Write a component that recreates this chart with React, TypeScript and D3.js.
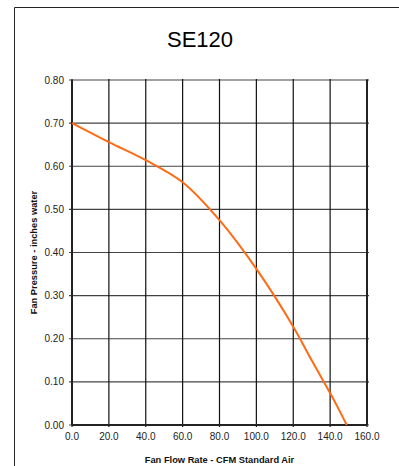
import React from "react";
import { scaleLinear, line, curveCatmullRom, range } from "d3";

// Caudal (CFM) y presión (pulgadas de agua)
const flowValues = [0, 20, 40, 60, 80, 100, 120, 130, 140, 144, 149];
const pressureValues = [0.7, 0.656, 0.614, 0.563, 0.475, 0.362, 0.228, 0.15, 0.074, 0.042, 0.0];

const xTicks = [0, 20, 40, 60, 80, 100, 120, 140, 160];
const yTicks = [0, 0.1, 0.2, 0.3, 0.4, 0.5, 0.6, 0.7, 0.8];

const title = "SE120";
const xTitle = "Fan Flow Rate - CFM Standard Air";
const yTitle = "Fan Pressure - inches water";

export default function App() {
  const width = 399;
  const height = 466;
  const plot = { left: 72, right: 367, top: 80, bottom: 425 };
  const font = "'Liberation Sans', Arial, sans-serif";

  const x = scaleLinear().domain([0, 160]).range([plot.left, plot.right]);
  const y = scaleLinear().domain([0, 0.8]).range([plot.bottom, plot.top]);

  const data = range(flowValues.length).map((i) => ({ q: flowValues[i], p: pressureValues[i] }));
  const curve = line<{ q: number; p: number }>()
    .x((d) => x(d.q))
    .y((d) => y(d.p))
    .curve(curveCatmullRom.alpha(0.5));

  return (
    <svg
      width={width}
      height={height}
      style={{ position: "absolute", left: 0, top: 0, background: "#fff" }}
      fontFamily={font}
    >
      {/* Marco exterior */}
      <line x1={14.5} y1={7.5} x2={width} y2={7.5} stroke="#222" strokeWidth={1} />
      <line x1={14.5} y1={7.5} x2={14.5} y2={height} stroke="#222" strokeWidth={1} />

      {/* Título */}
      <text x={200} y={47} textAnchor="middle" fontSize={22}>
        {title}
      </text>

      {/* Rejilla horizontal */}
      {yTicks.map((t, i) => (
        <line
          key={`h-${i}`}
          x1={plot.left - 3}
          x2={plot.right + 2}
          y1={y(t)}
          y2={y(t)}
          stroke="#444"
          strokeWidth={1.2}
        />
      ))}
      {/* Rejilla vertical */}
      {xTicks.map((t, i) => (
        <line
          key={`v-${i}`}
          x1={x(t)}
          x2={x(t)}
          y1={plot.top - 1}
          y2={plot.bottom + 2}
          stroke="#111"
          strokeWidth={1.2}
        />
      ))}
      {/* Ejes */}
      <line x1={plot.left} x2={plot.left} y1={plot.top} y2={plot.bottom} stroke="#222" strokeWidth={2} />
      <line x1={plot.left} x2={plot.right} y1={plot.bottom} y2={plot.bottom} stroke="#222" strokeWidth={2} />
      <line x1={plot.right} x2={plot.right} y1={plot.top} y2={plot.bottom} stroke="#222" strokeWidth={2} />

      {/* Etiquetas Y */}
      {yTicks.map((t, i) => (
        <text key={`yl-${i}`} x={64} y={y(t) + 3.5} textAnchor="end" fontSize={10} fill="#222">
          {t.toFixed(2)}
        </text>
      ))}
      {/* Etiquetas X */}
      {xTicks.map((t, i) => (
        <text key={`xl-${i}`} x={x(t)} y={440} textAnchor="middle" fontSize={10} fill="#222">
          {t.toFixed(1)}
        </text>
      ))}

      {/* Títulos de ejes */}
      <text x={219.5} y={462.5} textAnchor="middle" fontSize={9.3} fontWeight="bold" fill="#111">
        {xTitle}
      </text>
      <text
        transform={`translate(37, ${(plot.top + plot.bottom) / 2}) rotate(-90)`}
        textAnchor="middle"
        fontSize={9.3}
        fontWeight="bold"
        fill="#111"
      >
        {yTitle}
      </text>

      {/* Curva del ventilador */}
      <path d={curve(data) ?? ""} fill="none" stroke="#ff6a13" strokeWidth={2} />
    </svg>
  );
}
